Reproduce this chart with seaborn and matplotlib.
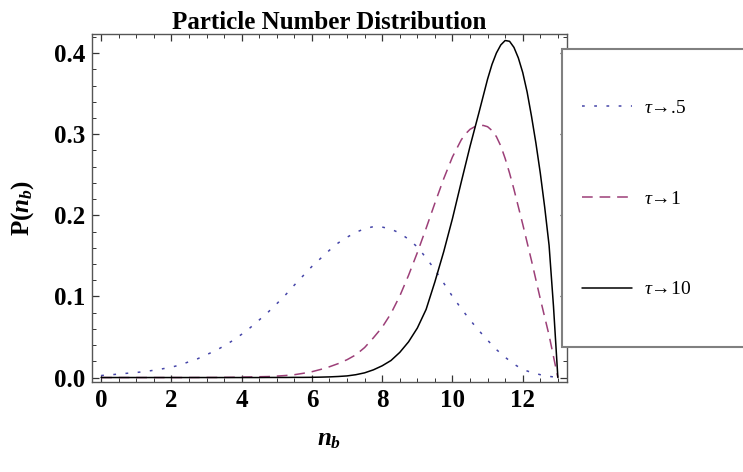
import numpy as np
import pandas as pd
import seaborn as sns
import matplotlib
matplotlib.use("Agg")
import matplotlib.pyplot as plt
from matplotlib.ticker import MultipleLocator
from matplotlib.patches import Rectangle

# ---- data ----
n_b_05 = [0.0, 0.25, 0.5, 0.75, 1.0, 1.25, 1.5, 1.75, 2.0, 2.25, 2.5, 2.75, 3.0, 3.25,
          3.5, 3.75, 4.0, 4.25, 4.5, 4.75, 5.0, 5.25, 5.5, 5.75, 6.0, 6.25, 6.5, 6.75,
          7.0, 7.25, 7.5, 7.75, 8.0, 8.25, 8.5, 8.75, 9.0, 9.25, 9.5, 9.75, 10.0, 10.25,
          10.5, 10.75, 11.0, 11.25, 11.5, 11.75, 12.0, 12.25, 12.5, 12.75, 13.0]
p_tau_05 = [0.0025, 0.0033, 0.0043, 0.0053, 0.0062, 0.0074, 0.0090, 0.0108, 0.0128, 0.0155,
            0.0195, 0.0232, 0.0282, 0.0330, 0.0390, 0.0457, 0.0533, 0.0617, 0.0710, 0.0805,
            0.0910, 0.1020, 0.1140, 0.1255, 0.1370, 0.1470, 0.1570, 0.1660, 0.1730, 0.1790,
            0.1835, 0.1860, 0.1855, 0.1830, 0.1780, 0.1705, 0.1610, 0.1475, 0.1330, 0.1165,
            0.1000, 0.0850, 0.0710, 0.0580, 0.0460, 0.0345, 0.0250, 0.0165, 0.0100, 0.0062,
            0.0035, 0.0015, 0.0]

n_b_1 = [0.0, 0.5, 1.0, 1.5, 2.0, 2.5, 3.0, 3.25, 3.5, 3.75, 4.0, 4.25, 4.5, 4.75,
         5.0, 5.25, 5.5, 5.75, 6.0, 6.25, 6.5, 6.75, 7.0, 7.25, 7.5, 7.75, 8.0, 8.25,
         8.5, 8.75, 9.0, 9.25, 9.5, 9.75, 10.0, 10.25, 10.375, 10.5, 10.625, 10.75,
         10.875, 11.0, 11.125, 11.25, 11.375, 11.5, 11.625, 11.75, 12.0, 12.25, 12.5,
         12.75, 13.0]
p_tau_1 = [0.0, 0.0, 0.0, 0.0, 0.0, 0.0, 0.0001, 0.0001, 0.0002, 0.0003, 0.0005, 0.0007,
           0.0010, 0.0012, 0.0018, 0.0025, 0.0035, 0.0052, 0.0072, 0.0100, 0.0133, 0.0172,
           0.0220, 0.0280, 0.0370, 0.0490, 0.0620, 0.0790, 0.1005, 0.1260, 0.1540, 0.1840,
           0.2150, 0.2450, 0.2720, 0.2930, 0.3005, 0.3060, 0.3090, 0.3103, 0.3108, 0.3092,
           0.3045, 0.2970, 0.2855, 0.2700, 0.2520, 0.2320, 0.1890, 0.1440, 0.0970, 0.0520,
           0.0]

n_b_10 = [0.0, 0.5, 1.0, 1.5, 2.0, 2.5, 3.0, 3.5, 4.0, 4.5, 4.75, 5.0, 5.25, 5.5, 5.75,
          6.0, 6.25, 6.5, 6.75, 7.0, 7.25, 7.5, 7.75, 8.0, 8.25, 8.5, 8.75, 9.0, 9.25,
          9.5, 9.75, 10.0, 10.25, 10.5, 10.75, 11.0, 11.125, 11.25, 11.375, 11.5, 11.625,
          11.75, 11.875, 12.0, 12.125, 12.25, 12.375, 12.5, 12.625, 12.75, 12.875, 13.0]
p_tau_10 = [0.0, 0.0, 0.0, 0.0, 0.0, 0.0, 0.0, 0.0, 0.0, 0.0, 0.0001, 0.0001, 0.0001,
            0.0002, 0.0002, 0.0003, 0.0005, 0.0008, 0.0013, 0.0020, 0.0035, 0.0058, 0.0095,
            0.0145, 0.0210, 0.0310, 0.0440, 0.0610, 0.0840, 0.1180, 0.1550, 0.1960, 0.2410,
            0.2850, 0.3260, 0.3680, 0.3860, 0.4000, 0.4100, 0.4155, 0.4145, 0.4070, 0.3940,
            0.3760, 0.3520, 0.3220, 0.2890, 0.2520, 0.2100, 0.1630, 0.0880, 0.0]

series_labels = [r"$\mathsf{\tau}$→.5", r"$\mathsf{\tau}$→1", r"$\mathsf{\tau}$→10"]
x_ticks = [0, 2, 4, 6, 8, 10, 12]
y_ticks = [0.0, 0.1, 0.2, 0.3, 0.4]

# ---- style ----
sns.set_theme(style="ticks")
plt.rcParams['font.family'] = ['Liberation Serif', 'DejaVu Serif']
plt.rcParams['mathtext.fontset'] = 'custom'
plt.rcParams['mathtext.it'] = 'Liberation Serif:italic:bold'
plt.rcParams['mathtext.rm'] = 'Liberation Serif:bold'
plt.rcParams['mathtext.bf'] = 'Liberation Serif:bold'
plt.rcParams['mathtext.sf'] = 'Liberation Serif:italic'
for k in ['text.color', 'axes.labelcolor', 'xtick.color', 'ytick.color']:
    plt.rcParams[k] = 'black'

W, H = 743, 472
fig = plt.figure(figsize=(W / 100, H / 100), dpi=100)
fig.patch.set_facecolor('white')
L, R, T, B = 92, 567, 34, 382
ax = fig.add_axes([L / W, 1 - B / H, (R - L) / W, (B - T) / H])
ax.set_facecolor('white')

sns.lineplot(x=n_b_05, y=p_tau_05, ax=ax, color="#4545a8", lw=1.1,
             linestyle=(0, (1.8, 6.2)), estimator=None)
sns.lineplot(x=n_b_1, y=p_tau_1, ax=ax, color="#9c3f78", lw=1.1,
             linestyle=(0, (7, 4.5)), estimator=None)
sns.lineplot(x=n_b_10, y=p_tau_10, ax=ax, color="black", lw=1.1,
             linestyle="-", estimator=None)

ax.set_xlim(-0.26, 13.26)
ax.set_ylim(-0.0055, 0.4235)
ax.set_xticks(x_ticks)
ax.set_yticks(y_ticks)
ax.set_xticklabels([str(v) for v in x_ticks])
ax.set_yticklabels([f"{v:.1f}" for v in y_ticks])
ax.xaxis.set_minor_locator(MultipleLocator(0.5))
ax.yaxis.set_minor_locator(MultipleLocator(0.02))
ax.tick_params(which='both', direction='in', top=True, right=True, color='#333333',
               labelcolor='black')
ax.tick_params(which='major', length=5, width=0.9, labelsize=18, pad=5)
ax.tick_params(which='minor', length=3, width=0.7)
for lab in ax.get_xticklabels() + ax.get_yticklabels():
    lab.set_fontweight('bold')
for sp in ax.spines.values():
    sp.set_color('#555555')
    sp.set_linewidth(1.0)

ax.set_title("Particle Number Distribution", fontsize=18, fontweight='bold', pad=2,
             color='black')
ax.set_xlabel("$n_b$", fontsize=18, color='black')
ax.set_ylabel("P($n_b$)", fontsize=18, fontweight='bold', color='black')
ax.xaxis.set_label_coords(0.5, -0.135)
ax.yaxis.set_label_coords(-0.118, 0.5)

# legend box (frame extends past the right edge as in the reference)
fig.patches.append(Rectangle((562 / W, 1 - 346.7 / H), (790 - 562) / W, (346.7 - 48.7) / H,
                             transform=fig.transFigure, facecolor='white',
                             edgecolor='#808080', linewidth=1.5, zorder=3))
handles = ax.lines[:3]
leg = fig.legend(handles, series_labels, loc='center left',
                 bbox_to_anchor=(582 / W, 1 - 199 / H), bbox_transform=fig.transFigure,
                 frameon=False, fontsize=14, handlelength=2.55, handletextpad=0.65,
                 labelspacing=3.75, borderpad=0, borderaxespad=0)
leg.set_zorder(4)
for t in leg.get_texts():
    t.set_fontweight('normal')
    t.set_color('black')

fig.savefig("out.png", dpi=100, facecolor='white')
